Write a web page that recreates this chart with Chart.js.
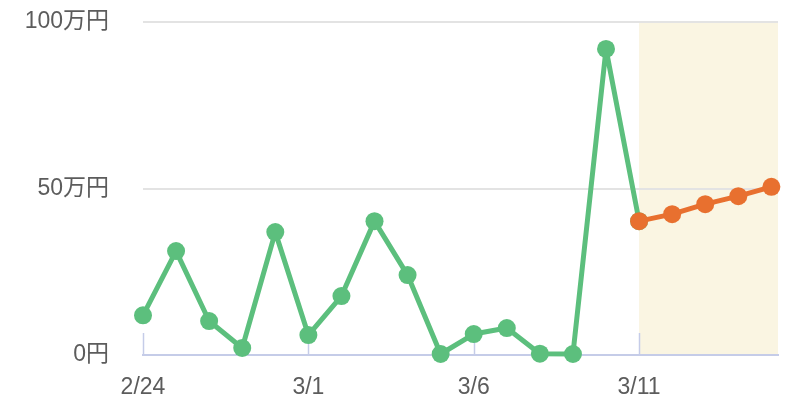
<!DOCTYPE html>
<html>
<head>
<meta charset="utf-8">
<script src="https://cdn.jsdelivr.net/npm/chart.js@4"></script>
<style>
  html, body { margin: 0; padding: 0; background: #fff; }
  #wrap { width: 800px; height: 419px; }
</style>
</head>
<body>
<div id="wrap"><canvas id="sales"></canvas></div>
<script>
// 日付 (2/24 - 3/15)
const dates = ['2/24', '2/25', '2/26', '2/27', '2/28', '3/1', '3/2', '3/3', '3/4', '3/5',
  '3/6', '3/7', '3/8', '3/9', '3/10', '3/11', '3/12', '3/13', '3/14', '3/15'];
// 実績 (万円) 2/24 - 3/11
const actualSales = [11.9, 31.2, 10.2, 2.1, 36.9, 6.0, 17.7, 40.2, 24.0, 0.3,
  6.3, 8.1, 0.4, 0.3, 91.9, 40.2];
// 予測 (万円) 3/11 - 3/15
const forecastSales = [40.2, 42.3, 45.3, 47.7, 50.5];
const forecastStart = '3/11';
const tickDates = ['2/24', '3/1', '3/6', '3/11'];
const yTicks = [0, 50, 100];

const fontFamily = '"Liberation Sans", Arial, "Noto Sans CJK JP", sans-serif';
const startIdx = dates.indexOf(forecastStart);

const actualPoints = actualSales.map((v, i) => ({ x: i, y: v }));
const forecastPoints = forecastSales.map((v, i) => ({ x: startIdx + i, y: v }));

/** 予測期間の背景と目盛り線 */
const forecastArea = {
  id: 'forecastArea',
  beforeDraw(chart) {
    const { ctx, chartArea, scales: { x } } = chart;
    const left = x.getPixelForValue(startIdx);
    ctx.save();
    ctx.fillStyle = '#faf5e2';
    ctx.fillRect(left, chartArea.top, chartArea.right - left, chartArea.bottom - chartArea.top);
    ctx.restore();
  },
  beforeDatasetsDraw(chart) {
    const { ctx, chartArea, scales: { x } } = chart;
    ctx.save();
    ctx.strokeStyle = '#c5cce8';
    ctx.lineWidth = 1.5;
    tickDates.forEach((d) => {
      const px = Math.round(x.getPixelForValue(dates.indexOf(d))) + 0.5;
      ctx.beginPath();
      ctx.moveTo(px, chartArea.bottom);
      ctx.lineTo(px, chartArea.bottom - 22);
      ctx.stroke();
    });
    ctx.restore();
  },
};

const ctx = document.getElementById('sales').getContext('2d');
new Chart(ctx, {
  type: 'line',
  plugins: [forecastArea],
  data: {
    datasets: [
      {
        label: '予測',
        data: forecastPoints,
        order: 0,
        clip: false,
        borderColor: '#e8702f',
        backgroundColor: '#e8702f',
        pointBackgroundColor: '#e8702f',
        pointBorderWidth: 0,
        pointRadius: 9,
        borderWidth: 5,
        borderJoinStyle: 'round',
        tension: 0,
      },
      {
        label: '実績',
        data: actualPoints,
        order: 1,
        clip: false,
        borderColor: '#5cbf7d',
        backgroundColor: '#5cbf7d',
        pointBackgroundColor: '#5cbf7d',
        pointBorderWidth: 0,
        pointRadius: 9,
        borderWidth: 5,
        borderJoinStyle: 'round',
        tension: 0,
      },
    ],
  },
  options: {
    responsive: true,
    maintainAspectRatio: false,
    animation: false,
    layout: { padding: { top: 22, right: 22, left: 0, bottom: 0 } },
    plugins: {
      legend: { display: false },
      tooltip: { enabled: false },
    },
    scales: {
      x: {
        type: 'linear',
        min: 0,
        max: 19.2,
        afterBuildTicks: (scale) => {
          scale.ticks = tickDates.map((d) => ({ value: dates.indexOf(d) }));
        },
        afterFit: (scale) => {
          scale.height = 64;
          scale.paddingLeft = 0;
          scale.paddingRight = 0;
        },
        grid: { display: false, drawTicks: false },
        border: { display: true, color: '#c5cce8', width: 2 },
        ticks: {
          padding: 19,
          color: '#5c5c5c',
          font: { size: 23, family: fontFamily },
          autoSkip: false,
          maxRotation: 0,
          callback: (v) => dates[v],
        },
      },
      y: {
        min: 0,
        max: 100,
        afterBuildTicks: (scale) => {
          scale.ticks = yTicks.map((v) => ({ value: v }));
        },
        afterFit: (scale) => {
          scale.width = 143;
          scale.paddingTop = 0;
          scale.paddingBottom = 0;
        },
        grid: { color: '#e3e3e3', lineWidth: 2, drawTicks: false },
        border: { display: false },
        ticks: {
          padding: 34,
          color: '#5c5c5c',
          font: { size: 23, family: fontFamily },
          callback: (v) => (v === 0 ? '0円' : v + '万円'),
        },
      },
    },
  },
});
</script>
</body>
</html>
